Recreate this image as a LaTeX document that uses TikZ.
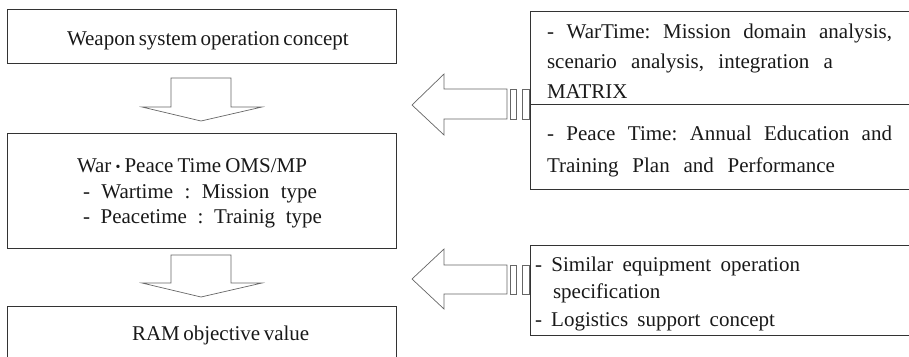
\documentclass[tikz,border=0pt]{standalone}
\usepackage{fontspec}
\setmainfont{Liberation Serif}
\frenchspacing
% a line of text spread to a given width
\newcommand{\spreadline}[2]{\makebox[#1][s]{#2}}
% small centred dot between two words
\newcommand{\middot}{{\fontsize{14}{14}\selectfont\raisebox{1pt}{•}}}
\begin{document}
\begin{tikzpicture}[x=1pt,y=-1pt,
  box/.style={draw=black!80, line width=0.8pt, inner sep=0pt, anchor=north west},
  blockarrow/.style={draw=black!60, line width=0.7pt, fill=white, line join=miter},
  txt/.style={anchor=base west, inner sep=0pt, outer sep=0pt,
              font=\fontsize{21}{25}\selectfont, text=black!90}]
\useasboundingbox (0,0) rectangle (909,356);
\clip (0,0) rectangle (909,356);

% left column of boxes
\node[box, minimum width=389pt, minimum height=54pt]  (concept) at (7,9) {};
\node[box, minimum width=389pt, minimum height=115pt] (oms)     at (7,133) {};
\node[box, minimum width=389pt, minimum height=60pt]  (ram)     at (7,306) {};

\node[txt] (conceptT) at (67,45)  {\spreadline{280pt}{Weapon system operation concept}};
\node[txt] (omsT1)    at (77,172) {\spreadline{230pt}{War \middot{} Peace Time OMS/MP}};
\node[txt] (omsT2)    at (83,198) {\spreadline{234pt}{- Wartime : Mission type}};
\node[txt] (omsT3)    at (83,223) {\spreadline{239pt}{- Peacetime : Trainig type}};
\node[txt] (ramT)     at (132,340){\spreadline{163pt}{RAM objective value}};

% right column of boxes
\node[box, minimum width=382pt, minimum height=93pt] (war)     at (530,11)  {};
\node[box, minimum width=382pt, minimum height=85pt] (peace)   at (530,104) {};
\node[box, minimum width=382pt, minimum height=90pt] (similar) at (530,245) {};

\node[txt] (warT1)   at (547,38)  {\spreadline{345pt}{- WarTime: Mission domain analysis,}};
\node[txt] (warT2)   at (547,68)  {\spreadline{286pt}{scenario analysis, integration a}};
\node[txt] (warT3)   at (547,98)  {MATRIX};
\node[txt] (peaceT1) at (547,140) {\spreadline{345pt}{- Peace Time: Annual Education and}};
\node[txt] (peaceT2) at (547,172) {\spreadline{288pt}{Training Plan and Performance}};
\node[txt] (simT1)   at (535,271) {\spreadline{265pt}{- Similar equipment operation}};
\node[txt] (simT2)   at (553,298) {specification};
\node[txt] (simT3)   at (535,326) {\spreadline{240pt}{- Logistics support concept}};

% downward block arrows between the left boxes
\draw[blockarrow] (171,78) -- (231,78) -- (231,107) -- (262,107) -- (201,121)
  -- (142,107) -- (171,107) -- cycle;
\draw[blockarrow] (171,255) -- (231,255) -- (231,283) -- (262,283) -- (201,297)
  -- (142,283) -- (171,283) -- cycle;

% leftward block arrows from the right boxes
\draw[blockarrow] (507,89) -- (444,89) -- (444,74) -- (412,105) -- (444,135)
  -- (444,119) -- (507,119) -- cycle;
\draw[blockarrow] (510,89) rectangle (516,119);
\draw[blockarrow] (522,89) rectangle (529,119);

\draw[blockarrow] (507,265) -- (444,265) -- (444,249) -- (412,279) -- (444,309)
  -- (444,294) -- (507,294) -- cycle;
\draw[blockarrow] (510,265) rectangle (516,294);
\draw[blockarrow] (522,265) rectangle (529,294);
\end{tikzpicture}
\end{document}
